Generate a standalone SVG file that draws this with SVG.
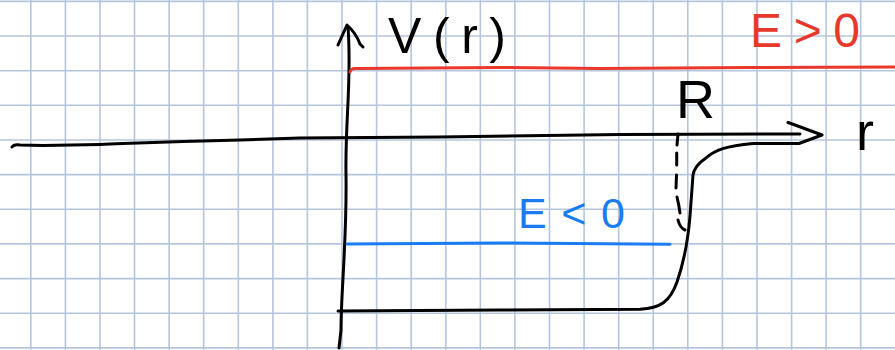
<svg xmlns="http://www.w3.org/2000/svg" width="895" height="350" viewBox="0 0 895 350">
  <style>
    .grid line { stroke: #b6c5de; stroke-width: 1.6; }
    .ink { fill: none; stroke: #000; stroke-width: 3; stroke-linecap: round; stroke-linejoin: round; }
    .red { fill: none; stroke: #e8372b; stroke-width: 3; stroke-linecap: round; }
    .blue { fill: none; stroke: #1a7cf2; stroke-width: 3; stroke-linecap: round; }
    .lbl { font-family: "Liberation Sans", "DejaVu Sans", sans-serif; }
  </style>
  <rect width="895" height="350" fill="#ffffff"/>
  <g id="grid" class="grid">
    <line x1="30.8" y1="0" x2="30.8" y2="350"/>
    <line x1="65.4" y1="0" x2="65.4" y2="350"/>
    <line x1="100" y1="0" x2="100" y2="350"/>
    <line x1="134.5" y1="0" x2="134.5" y2="350"/>
    <line x1="169.1" y1="0" x2="169.1" y2="350"/>
    <line x1="203.7" y1="0" x2="203.7" y2="350"/>
    <line x1="238.3" y1="0" x2="238.3" y2="350"/>
    <line x1="272.9" y1="0" x2="272.9" y2="350"/>
    <line x1="307.4" y1="0" x2="307.4" y2="350"/>
    <line x1="342" y1="0" x2="342" y2="350"/>
    <line x1="376.6" y1="0" x2="376.6" y2="350"/>
    <line x1="411.2" y1="0" x2="411.2" y2="350"/>
    <line x1="445.8" y1="0" x2="445.8" y2="350"/>
    <line x1="480.3" y1="0" x2="480.3" y2="350"/>
    <line x1="514.9" y1="0" x2="514.9" y2="350"/>
    <line x1="549.5" y1="0" x2="549.5" y2="350"/>
    <line x1="584.1" y1="0" x2="584.1" y2="350"/>
    <line x1="618.7" y1="0" x2="618.7" y2="350"/>
    <line x1="653.2" y1="0" x2="653.2" y2="350"/>
    <line x1="687.8" y1="0" x2="687.8" y2="350"/>
    <line x1="722.4" y1="0" x2="722.4" y2="350"/>
    <line x1="757" y1="0" x2="757" y2="350"/>
    <line x1="791.6" y1="0" x2="791.6" y2="350"/>
    <line x1="826.1" y1="0" x2="826.1" y2="350"/>
    <line x1="860.7" y1="0" x2="860.7" y2="350"/>
    <line x1="0" y1="1.4" x2="895" y2="1.4"/>
    <line x1="0" y1="36" x2="895" y2="36"/>
    <line x1="0" y1="70.7" x2="895" y2="70.7"/>
    <line x1="0" y1="105.3" x2="895" y2="105.3"/>
    <line x1="0" y1="140" x2="895" y2="140"/>
    <line x1="0" y1="174.6" x2="895" y2="174.6"/>
    <line x1="0" y1="209.3" x2="895" y2="209.3"/>
    <line x1="0" y1="243.9" x2="895" y2="243.9"/>
    <line x1="0" y1="278.6" x2="895" y2="278.6"/>
    <line x1="0" y1="313.2" x2="895" y2="313.2"/>
    <line x1="0" y1="347.9" x2="895" y2="347.9"/>
  </g>
  <g id="axes">
    <path id="r-axis" class="ink" d="M12,147 Q14,144 20,145 L43,145.5 L100,144.5 C140,143 170,141.5 240,140 L300,138 L440,137 L620,134.5 L800,134"/>
    <path id="v-axis" class="ink" d="M348,27 C352,80 345,120 346,175 C347,240 341,290 341,330 L339,348"/>
    <path id="v-arrow" class="ink" d="M338,45 L347,25 Q356,33 360,44 L363,47"/>
  </g>
  <g id="curves">
    <path id="e-pos" class="red" d="M350,72 Q351,68 356,68.5 L500,67.5 L600,68.5 L750,67.5 L895,67"/>
    <path id="e-neg" class="blue" d="M347,244 L500,243 L670,244.3"/>
    <path id="r-marker" class="ink" d="M678,134 L677,145 M676.7,153 L676.7,165 M676.5,175 L676,188 M677,197 Q679,205 680,213 M678,220 Q680,228 685,230"/>
    <path id="potential" class="ink" d="M338,311 L500,310 L640,309.3 C660,308 670,302 677,282 C684,262 688,240 690,216 L693,175 C694,168 700,162 706,158 C715,150 726,146 753,143.5 L799,143.5 L822,135 L795,125 L788,122.5"/>
  </g>
  <g id="labels" class="lbl">
    <text x="388" y="53" font-size="50" textLength="118" fill="#000">V(r)</text>
    <text x="750" y="47" font-size="48" textLength="110" fill="#e8372b">E &gt; 0</text>
    <text x="518" y="228" font-size="43" textLength="107" fill="#1a7cf2">E &lt; 0</text>
    <text x="676" y="118" font-size="54" fill="#000">R</text>
    <text x="856" y="150" font-size="54" fill="#000">r</text>
  </g>
</svg>
